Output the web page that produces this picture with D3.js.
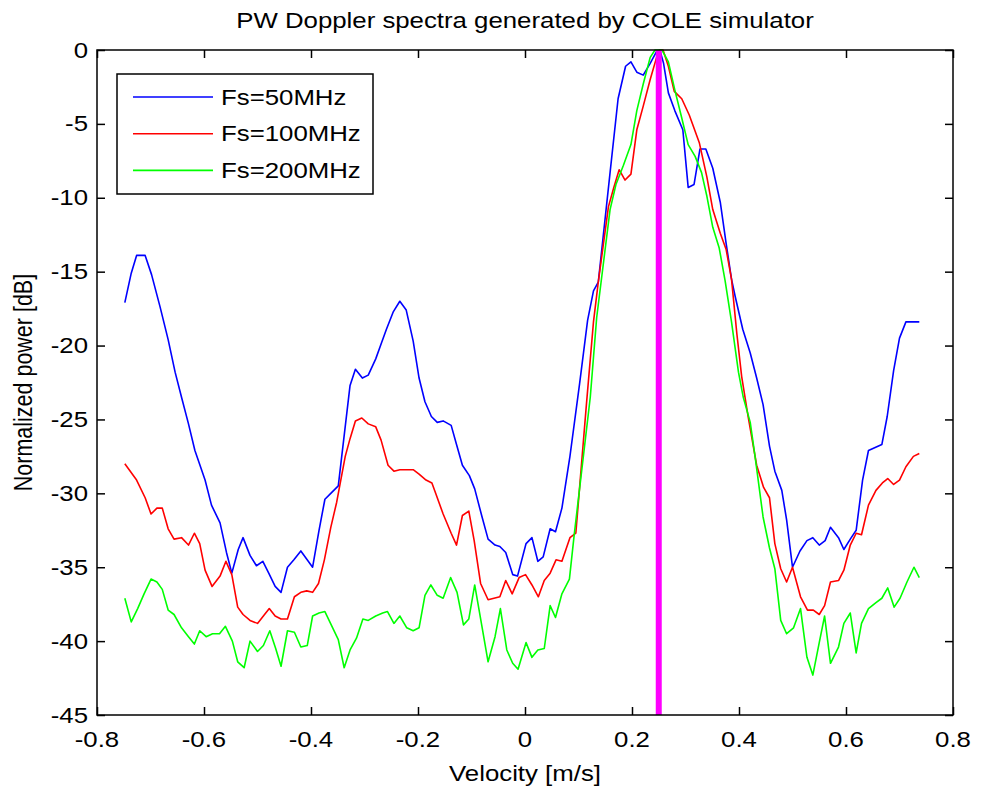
<!DOCTYPE html>
<html>
<head>
<meta charset="utf-8">
<script src="https://cdn.jsdelivr.net/npm/d3@7"></script>
<style>
  body { margin: 0; background: #fff; }
  text { font-family: "Liberation Sans", Arial, sans-serif; fill: #000; }
</style>
</head>
<body>
<script>
// series (velocity in m/s, power in dB)
var blueV = [-0.748,-0.736,-0.726,-0.710,-0.698,-0.682,-0.667,-0.654,-0.642,-0.629,-0.617,-0.598,-0.586,-0.570,-0.558,-0.548,-0.536,-0.527,-0.514,-0.502,-0.490,-0.479,-0.467,-0.456,-0.444,-0.432,-0.419,-0.397,-0.385,-0.374,-0.363,-0.349,-0.327,-0.317,-0.304,-0.293,-0.279,-0.268,-0.259,-0.246,-0.234,-0.222,-0.209,-0.198,-0.187,-0.175,-0.164,-0.153,-0.138,-0.128,-0.117,-0.104,-0.094,-0.081,-0.069,-0.056,-0.047,-0.036,-0.023,-0.014,0.002,0.013,0.024,0.034,0.047,0.057,0.069,0.084,0.102,0.117,0.128,0.137,0.159,0.174,0.188,0.198,0.209,0.221,0.234,0.246,0.252,0.259,0.268,0.280,0.295,0.305,0.316,0.327,0.338,0.351,0.365,0.376,0.386,0.393,0.407,0.421,0.433,0.445,0.457,0.467,0.480,0.489,0.500,0.514,0.527,0.538,0.550,0.561,0.571,0.586,0.596,0.608,0.619,0.631,0.642,0.667,0.677,0.689,0.700,0.712,0.737];
var blueDb = [-17.1,-15.1,-13.9,-13.9,-15.2,-17.4,-19.6,-21.8,-23.5,-25.3,-27.1,-29.1,-30.8,-32.0,-34.0,-35.4,-33.8,-33.0,-34.2,-34.9,-34.6,-35.4,-36.3,-36.7,-35.0,-34.5,-33.9,-35.0,-32.5,-30.4,-30.0,-29.5,-22.7,-21.6,-22.2,-22.0,-20.9,-19.8,-18.9,-17.7,-17.0,-17.6,-19.7,-22.2,-23.8,-24.8,-25.2,-25.1,-25.4,-26.7,-28.1,-28.8,-29.7,-31.5,-33.1,-33.5,-33.6,-34.0,-35.5,-35.6,-33.4,-33.0,-34.6,-34.3,-32.4,-32.6,-31.0,-27.5,-22.6,-18.3,-16.3,-15.7,-8.3,-3.3,-1.1,-0.8,-1.5,-1.7,-0.9,-0.1,0,-0.9,-2.9,-4.1,-5.4,-9.3,-9.1,-6.7,-6.7,-8.0,-10.3,-13.1,-15.5,-16.7,-18.9,-20.5,-22.2,-24.0,-26.8,-28.5,-29.8,-31.8,-35.0,-33.9,-33.2,-33.0,-33.5,-33.2,-32.3,-33.0,-33.8,-33.1,-32.5,-29.1,-27.1,-26.7,-24.8,-21.7,-19.5,-18.4,-18.4];

var redV = [-0.748,-0.726,-0.710,-0.699,-0.688,-0.678,-0.667,-0.656,-0.642,-0.629,-0.618,-0.608,-0.598,-0.585,-0.570,-0.559,-0.548,-0.537,-0.527,-0.514,-0.500,-0.489,-0.478,-0.467,-0.456,-0.444,-0.431,-0.419,-0.408,-0.397,-0.386,-0.375,-0.363,-0.352,-0.336,-0.327,-0.317,-0.305,-0.293,-0.279,-0.269,-0.256,-0.245,-0.234,-0.209,-0.198,-0.185,-0.174,-0.166,-0.153,-0.138,-0.128,-0.117,-0.105,-0.095,-0.083,-0.069,-0.047,-0.036,-0.024,-0.011,0.001,0.013,0.025,0.036,0.047,0.058,0.069,0.084,0.095,0.115,0.128,0.137,0.156,0.166,0.176,0.187,0.198,0.209,0.221,0.234,0.246,0.252,0.258,0.268,0.279,0.293,0.307,0.326,0.340,0.351,0.365,0.376,0.386,0.396,0.405,0.417,0.433,0.446,0.457,0.467,0.478,0.489,0.500,0.515,0.528,0.539,0.550,0.560,0.571,0.586,0.596,0.608,0.619,0.629,0.642,0.656,0.668,0.678,0.689,0.700,0.712,0.726,0.737];
var redDb = [-28.0,-29.1,-30.3,-31.4,-31.0,-31.0,-32.4,-33.1,-33.0,-33.5,-32.7,-33.4,-35.2,-36.3,-35.6,-34.6,-35.5,-37.7,-38.2,-38.6,-38.8,-38.3,-37.8,-38.3,-38.5,-38.5,-37.0,-36.7,-36.6,-36.7,-36.1,-34.5,-32.3,-30.6,-27.5,-26.3,-25.1,-24.9,-25.3,-25.5,-26.4,-28.1,-28.5,-28.4,-28.4,-28.7,-29.1,-29.3,-30.1,-31.4,-32.7,-33.5,-31.5,-31.2,-33.2,-36.1,-37.2,-37.0,-35.9,-36.8,-35.7,-35.5,-36.2,-37.0,-35.9,-35.4,-34.5,-34.6,-33.0,-32.7,-23.9,-18.4,-15.7,-10.6,-9.3,-8.1,-8.8,-8.4,-5.4,-3.8,-2.0,-0.5,0,0,-1.1,-2.8,-3.3,-4.4,-6.3,-8.6,-10.8,-12.4,-13.5,-15.5,-19.2,-22.1,-24.8,-28.1,-29.6,-30.3,-33.4,-35.1,-36.0,-35.0,-37.0,-37.9,-37.9,-38.2,-37.6,-36.0,-35.9,-35.2,-33.5,-32.7,-32.8,-30.8,-29.8,-29.3,-29.0,-29.4,-29.1,-28.2,-27.5,-27.3];

var greenV = [-0.748,-0.736,-0.724,-0.712,-0.699,-0.688,-0.678,-0.667,-0.656,-0.642,-0.629,-0.618,-0.608,-0.596,-0.584,-0.571,-0.560,-0.547,-0.537,-0.525,-0.514,-0.500,-0.489,-0.477,-0.466,-0.456,-0.444,-0.431,-0.419,-0.407,-0.397,-0.385,-0.374,-0.349,-0.338,-0.327,-0.315,-0.303,-0.293,-0.279,-0.266,-0.257,-0.245,-0.234,-0.221,-0.209,-0.198,-0.187,-0.176,-0.164,-0.153,-0.139,-0.127,-0.115,-0.105,-0.094,-0.081,-0.069,-0.056,-0.046,-0.034,-0.023,-0.013,0.002,0.013,0.024,0.036,0.047,0.057,0.069,0.083,0.092,0.122,0.134,0.159,0.170,0.184,0.198,0.209,0.221,0.234,0.243,0.256,0.268,0.280,0.293,0.305,0.318,0.330,0.340,0.351,0.363,0.374,0.386,0.399,0.408,0.421,0.430,0.445,0.457,0.467,0.478,0.489,0.502,0.515,0.527,0.538,0.550,0.560,0.571,0.586,0.596,0.608,0.619,0.629,0.642,0.656,0.667,0.678,0.690,0.701,0.714,0.727,0.737];
var greenDb = [-37.1,-38.7,-37.8,-36.8,-35.8,-36.0,-36.5,-37.9,-38.2,-39.1,-39.7,-40.2,-39.3,-39.7,-39.5,-39.5,-39.0,-40.0,-41.4,-41.8,-40.0,-40.7,-40.3,-39.3,-40.5,-41.7,-39.3,-39.4,-40.4,-40.3,-38.3,-38.1,-38.0,-39.9,-41.8,-40.6,-39.8,-38.5,-38.6,-38.3,-38.1,-38.0,-38.8,-38.3,-39.1,-39.3,-39.1,-36.9,-36.2,-36.9,-37.1,-35.7,-36.7,-38.9,-38.5,-36.2,-38.9,-41.4,-39.7,-37.8,-40.6,-41.5,-41.9,-40.1,-41.1,-40.6,-40.5,-37.6,-38.4,-36.8,-35.8,-32.8,-23.5,-18.1,-10.8,-9.1,-7.8,-6.4,-4.1,-2.3,-0.5,0,0,-0.8,-2.7,-4.6,-6.4,-7.2,-8.3,-9.9,-12.0,-13.4,-15.6,-18.4,-21.8,-23.5,-25.2,-27.5,-31.6,-33.7,-35.1,-38.6,-39.5,-39.1,-37.8,-41.1,-42.3,-40.1,-38.3,-41.5,-40.4,-38.8,-38.1,-40.8,-38.8,-37.8,-37.4,-37.1,-36.4,-37.7,-37.1,-36.0,-35.0,-35.7];

var seriesNames = ["Fs=50MHz", "Fs=100MHz", "Fs=200MHz"];
var seriesColors = ["#0000ff", "#ff0000", "#00ff00"];
var peakVelocity = 0.25;

var xTicks = [-0.8, -0.6, -0.4, -0.2, 0, 0.2, 0.4, 0.6, 0.8];
var xTickLabels = ["-0.8", "-0.6", "-0.4", "-0.2", "0", "0.2", "0.4", "0.6", "0.8"];
var yTicks = [0, -5, -10, -15, -20, -25, -30, -35, -40, -45];
var yTickLabels = ["0", "-5", "-10", "-15", "-20", "-25", "-30", "-35", "-40", "-45"];

var margin = { top: 50, right: 28, bottom: 74, left: 97 },
	width = 981 - margin.left - margin.right,
	height = 789 - margin.top - margin.bottom,
	fontSize = 21.5,
	stretch = 1.2; // reference glyphs are wider than they are tall

var series = [
	{ name: seriesNames[0], color: seriesColors[0], v: blueV, db: blueDb },
	{ name: seriesNames[1], color: seriesColors[1], v: redV, db: redDb },
	{ name: seriesNames[2], color: seriesColors[2], v: greenV, db: greenDb }
];

var svg = d3.select("body").append("svg")
	.attr("width", width + margin.left + margin.right)
	.attr("height", height + margin.top + margin.bottom);

var g = svg.append("g")
	.attr("transform", "translate(" + margin.left + "," + margin.top + ")");

var x = d3.scaleLinear().domain([-0.8, 0.8]).range([0, width]);
var y = d3.scaleLinear().domain([-45, 0]).range([height, 0]);

// stretched text helper
function label(parent, str, tx, ty, anchor, rot) {
	return parent.append("text")
		.attr("transform", "translate(" + tx + "," + ty + ") scale(" + stretch + ",1)" + (rot ? " rotate(" + rot + ")" : ""))
		.style("font-size", fontSize + "px")
		.style("text-anchor", anchor)
		.text(str);
}

// curves
var line = d3.line()
	.x(function(d) { return x(d[0]); })
	.y(function(d) { return y(d[1]); });

g.selectAll(".curve")
	.data(series)
	.enter().append("path")
	.attr("class", "curve")
	.attr("d", function(s) { return line(s.v.map(function(v, i) { return [v, s.db[i]]; })); })
	.attr("fill", "none")
	.attr("stroke", function(s) { return s.color; })
	.attr("stroke-width", 1.6)
	.attr("stroke-linejoin", "round");

// peak marker
g.append("line")
	.attr("x1", x(peakVelocity)).attr("x2", x(peakVelocity))
	.attr("y1", y(-45)).attr("y2", y(0))
	.attr("stroke", "#ff00ff")
	.attr("stroke-width", 6);

// ticks on all four sides, pointing in
function ticks(axis, tx, ty) {
	var a = g.append("g")
		.attr("transform", "translate(" + tx + "," + ty + ")")
		.call(axis.tickSizeInner(-8).tickSizeOuter(0).tickFormat(""));
	a.select(".domain").remove();
	a.selectAll("line").attr("stroke-width", 1.5);
}
ticks(d3.axisBottom(x).tickValues(xTicks), 0, height);
ticks(d3.axisTop(x).tickValues(xTicks), 0, 0);
ticks(d3.axisLeft(y).tickValues(yTicks), 0, 0);
ticks(d3.axisRight(y).tickValues(yTicks), width, 0);

g.append("rect")
	.attr("width", width).attr("height", height)
	.attr("fill", "none").attr("stroke", "#000").attr("stroke-width", 1.5);

// tick labels
xTicks.forEach(function(d, i) { label(g, xTickLabels[i], x(d), height + 32, "middle"); });
yTicks.forEach(function(d, i) { label(g, yTickLabels[i], -9, y(d) + 7.5, "end"); });

// titles
label(svg, "PW Doppler spectra generated by COLE simulator", margin.left + width / 2, 28, "middle");
label(svg, "Velocity [m/s]", margin.left + width / 2, 781, "middle");
label(svg, "Normalized power [dB]", 32, margin.top + height / 2, "middle", -90);

// legend
var legend = svg.append("g").attr("transform", "translate(117,74)");
legend.append("rect")
	.attr("width", 256).attr("height", 120)
	.attr("fill", "#fff").attr("stroke", "#000").attr("stroke-width", 1.5);

var rows = legend.selectAll(".legend")
	.data(series)
	.enter().append("g")
	.attr("class", "legend")
	.attr("transform", function(d, i) { return "translate(0," + (23 + i * 36.7) + ")"; });

rows.append("line")
	.attr("x1", 16).attr("x2", 96)
	.attr("stroke", function(d) { return d.color; })
	.attr("stroke-width", 1.6);

rows.each(function(d) { label(d3.select(this), d.name, 104, 7.5, "start"); });
</script>
</body>
</html>
